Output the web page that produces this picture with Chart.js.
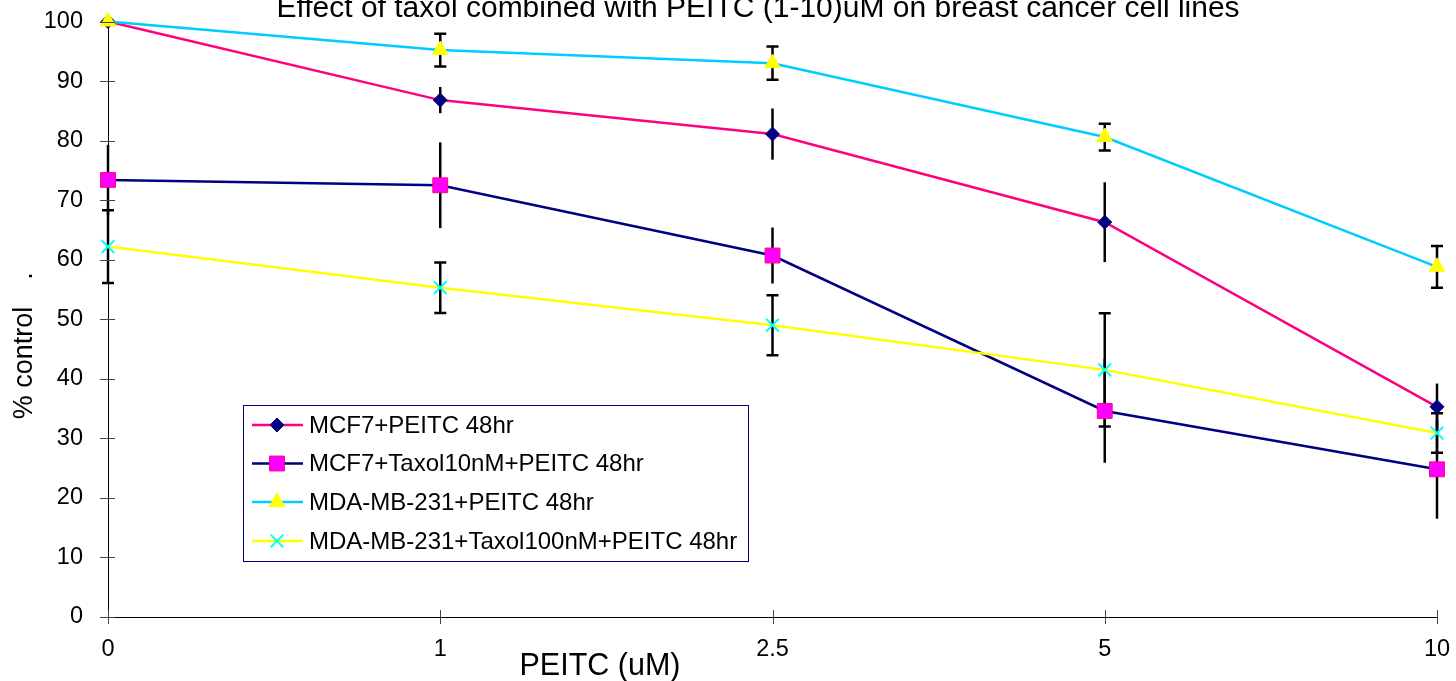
<!DOCTYPE html>
<html>
<head>
<meta charset="utf-8">
<script src="https://cdn.jsdelivr.net/npm/chart.js@4.4.1/dist/chart.umd.min.js"></script>
<style>
  html, body { margin: 0; padding: 0; background: #fff; }
  #wrap { width: 1456px; height: 681px; position: relative; }
</style>
</head>
<body>
<div id="wrap"><canvas id="c"></canvas></div>
<script>
// PEITC dose (uM) — evenly spaced categories
const doses = ['0', '1', '2.5', '5', '10'];

const seriesNames = [
  'MCF7+PEITC 48hr',
  'MCF7+Taxol10nM+PEITC 48hr',
  'MDA-MB-231+PEITC 48hr',
  'MDA-MB-231+Taxol100nM+PEITC 48hr',
];

// % control
const mcf7Peitc      = [100, 86.8, 81.1, 66.3, 35.3];
const mcf7Taxol      = [73.4, 72.5, 60.7, 34.6, 24.8];
const mdaPeitc       = [100, 95.2, 93.0, 80.6, 58.8];
const mdaTaxol       = [62.2, 55.3, 49.0, 41.5, 30.9];

// +/- error bars
const mcf7PeitcErr   = [0, 2.2, 4.3, 6.7, 3.9];
const mcf7TaxolErr   = [5.9, 7.2, 4.7, 8.7, 8.3];
const mdaPeitcErr    = [0, 2.75, 2.8, 2.25, 3.5];
const mdaTaxolErr    = [6.1, 4.25, 5.05, 9.5, 3.3];

const yTicks = [0, 10, 20, 30, 40, 50, 60, 70, 80, 90, 100];

const FONT = '"Liberation Sans", Arial, sans-serif';

// later series sit on top, as in the spreadsheet original
const datasets = [
  { label: seriesNames[0], data: mcf7Peitc, err: mcf7PeitcErr, caps: false, order: 3,
    borderColor: '#FF0080', pointStyle: 'rectRot', pointRadius: 7,
    pointBackgroundColor: '#000080', pointBorderColor: '#000080', pointBorderWidth: 1 },
  { label: seriesNames[1], data: mcf7Taxol, err: mcf7TaxolErr, caps: false, order: 2,
    borderColor: '#000080', pointStyle: 'rect', pointRadius: 10.5,
    pointBackgroundColor: '#FF00FF', pointBorderColor: '#FF0080', pointBorderWidth: 1 },
  { label: seriesNames[2], data: mdaPeitc, err: mdaPeitcErr, caps: true, order: 1,
    borderColor: '#00CCFF', pointStyle: 'triangle', pointRadius: 9,
    pointBackgroundColor: '#FFFF00', pointBorderColor: '#FFFF00', pointBorderWidth: 1 },
  { label: seriesNames[3], data: mdaTaxol, err: mdaTaxolErr, caps: true, order: 0,
    borderColor: '#FFFF00', pointStyle: 'crossRot', pointRadius: 9,
    pointBackgroundColor: '#00FFFF', pointBorderColor: '#00FFFF', pointBorderWidth: 2 },
].map(d => Object.assign({ borderWidth: 2.5, tension: 0, clip: false, fill: false,
  pointHoverRadius: d.pointRadius }, d));

// error bars under the markers
const errorBars = {
  id: 'errorBars',
  beforeDatasetsDraw(chart) {
    const { ctx, scales: { x, y } } = chart;
    ctx.save();
    ctx.strokeStyle = '#000';
    ctx.lineWidth = 2.5;
    chart.data.datasets.forEach(ds => {
      ds.data.forEach((v, i) => {
        const e = ds.err[i];
        if (!e) return;
        const px = x.getPixelForValue(i);
        const top = y.getPixelForValue(v + e);
        const bot = y.getPixelForValue(v - e);
        ctx.beginPath();
        ctx.moveTo(px, top); ctx.lineTo(px, bot);
        if (ds.caps) {
          ctx.moveTo(px - 6, top); ctx.lineTo(px + 6, top);
          ctx.moveTo(px - 6, bot); ctx.lineTo(px + 6, bot);
        }
        ctx.stroke();
      });
    });
    ctx.restore();
  }
};

// crossing tick marks, titles and the boxed legend
const decorations = {
  id: 'decorations',
  afterDraw(chart) {
    const { ctx, chartArea: a, scales: { x, y } } = chart;
    ctx.save();
    ctx.strokeStyle = '#444';
    ctx.lineWidth = 1;
    ctx.beginPath();
    yTicks.forEach(t => {
      const py = Math.round(y.getPixelForValue(t)) + 0.5;
      ctx.moveTo(a.left - 8, py); ctx.lineTo(a.left + 7, py);
    });
    doses.forEach((d, i) => {
      const px = Math.round(x.getPixelForValue(i)) + 0.5;
      ctx.moveTo(px, a.bottom - 7); ctx.lineTo(px, a.bottom + 7);
    });
    ctx.stroke();

    ctx.fillStyle = '#000';
    ctx.textAlign = 'center';
    ctx.textBaseline = 'alphabetic';
    ctx.font = '30px ' + FONT;
    ctx.fillText('Effect of taxol combined with PEITC (1-10)uM on breast cancer cell lines', 758, 17);
    ctx.font = '30.5px ' + FONT;
    ctx.fillText('PEITC (uM)', 600, 675);

    ctx.font = '27px ' + FONT;
    ctx.save();
    ctx.translate(32, 363); ctx.rotate(-Math.PI / 2);
    ctx.fillText('% control', 0, 0);
    ctx.restore();
    ctx.save();
    ctx.translate(32, 276); ctx.rotate(-Math.PI / 2);
    ctx.fillText('.', 0, 0);
    ctx.restore();

    // legend
    const lx = 243, ly = 405, lw = 505, lh = 156;
    ctx.fillStyle = '#fff';
    ctx.fillRect(lx, ly, lw, lh);
    ctx.strokeStyle = '#000080';
    ctx.lineWidth = 1;
    ctx.strokeRect(lx + 0.5, ly + 0.5, lw, lh);
    const rowY = [425, 463.5, 502, 541];
    chart.data.datasets.forEach((ds, i) => {
      const cy = rowY[i];
      ctx.strokeStyle = ds.borderColor;
      ctx.lineWidth = 2.5;
      ctx.beginPath(); ctx.moveTo(252, cy); ctx.lineTo(303, cy); ctx.stroke();
      ctx.fillStyle = ds.pointBackgroundColor;
      ctx.strokeStyle = ds.pointBorderColor;
      ctx.lineWidth = ds.pointBorderWidth;
      Chart.helpers.drawPoint(ctx, { pointStyle: ds.pointStyle, radius: ds.pointRadius, rotation: 0,
        borderWidth: ds.pointBorderWidth }, 277, cy);
      ctx.fillStyle = '#000';
      ctx.font = '24px ' + FONT;
      ctx.textAlign = 'left';
      ctx.textBaseline = 'middle';
      ctx.fillText(ds.label, 309, cy + 1);
    });
    ctx.restore();
  }
};

new Chart(document.getElementById('c'), {
  type: 'line',
  data: { labels: doses, datasets },
  options: {
    responsive: true,
    maintainAspectRatio: false,
    animation: false,
    devicePixelRatio: 1,
    layout: { padding: { top: 21.5, right: 19, left: 0, bottom: 0 } },
    plugins: { legend: { display: false }, title: { display: false }, tooltip: { enabled: false } },
    scales: {
      x: {
        type: 'category',
        offset: false,
        grid: { display: false, drawTicks: false },
        border: { display: true, color: '#000', width: 1 },
        ticks: { color: '#000', font: { family: FONT, size: 23.5 }, padding: 18, maxRotation: 0 },
        afterFit(s) { s.height = 64; s.paddingLeft = 0; s.paddingRight = 0; },
      },
      y: {
        min: 0, max: 100,
        grid: { display: false, drawTicks: false },
        border: { display: true, color: '#000', width: 1 },
        ticks: { stepSize: 10, color: '#000', font: { family: FONT, size: 23.5 }, padding: 25 },
        afterFit(s) { s.width = 108; s.paddingTop = 0; s.paddingBottom = 0; },
      },
    },
  },
  plugins: [errorBars, decorations],
});
</script>
</body>
</html>
